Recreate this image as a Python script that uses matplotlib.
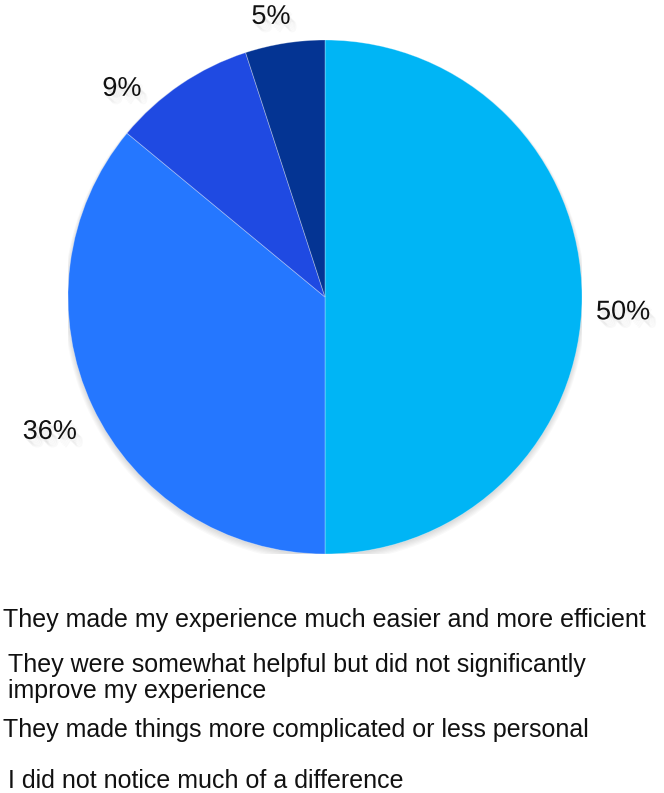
import matplotlib
matplotlib.use("Agg")
import matplotlib.pyplot as plt
import matplotlib.patheffects as pe
from matplotlib.patches import Circle

categories = [
    "They made my experience much easier and more efficient",
    "They were somewhat helpful but did not significantly\nimprove my experience",
    "They made things more complicated or less personal",
    "I did not notice much of a difference",
]
values = [50, 36, 9, 5]
pct_labels = ["50%", "36%", "9%", "5%"]
colors = ["#00B5F5", "#2577FF", "#1F4AE2", "#043493"]

# label anchor points (pie radius units) and legend text placement (pixels)
label_xy = [(1.16, -0.06), (-1.07, -0.525), (-0.79, 0.81), (-0.21, 1.09)]
legend_x = [3, 8, 3, 8]
legend_top = [608, 653, 718, 769]

plt.rcParams["font.family"] = ["Liberation Sans", "DejaVu Sans"]

W, H = 664, 793
fig = plt.figure(figsize=(W / 100, H / 100), dpi=100)
cx, cy, R = 325, 297, 257
ax = fig.add_axes([(cx - R) / W, (H - cy - R) / H, 2 * R / W, 2 * R / H])

# soft drop shadow under the pie
for k in range(6):
    ax.add_patch(Circle((0.0, -0.006 - 0.002 * k), 1.0 + 0.003 * k,
                        facecolor="#000000", alpha=0.025, lw=0, zorder=0))

ax.pie(values, colors=colors, startangle=90, counterclock=False, radius=1,
       wedgeprops=dict(linewidth=0.6, edgecolor=(1, 1, 1, 0.35), zorder=2))
ax.set_xlim(-1, 1)
ax.set_ylim(-1, 1)
ax.set_aspect("equal")
ax.axis("off")

shadow = [pe.SimplePatchShadow(offset=(d, -d - 1), shadow_rgbFace="#000000", alpha=0.022)
          for d in (1, 2, 3, 4, 5)] + [pe.Normal()]
for txt, (x, y) in zip(pct_labels, label_xy):
    t = ax.text(x, y, txt, ha="center", va="center", fontsize=19.5, color="#111111",
                clip_on=False)
    t.set_path_effects(shadow)

for txt, x, y in zip(categories, legend_x, legend_top):
    fig.text(x / W, 1 - y / H, txt, ha="left", va="top", fontsize=18, color="#111111",
             linespacing=1.12)

fig.savefig("out.png", dpi=100)
